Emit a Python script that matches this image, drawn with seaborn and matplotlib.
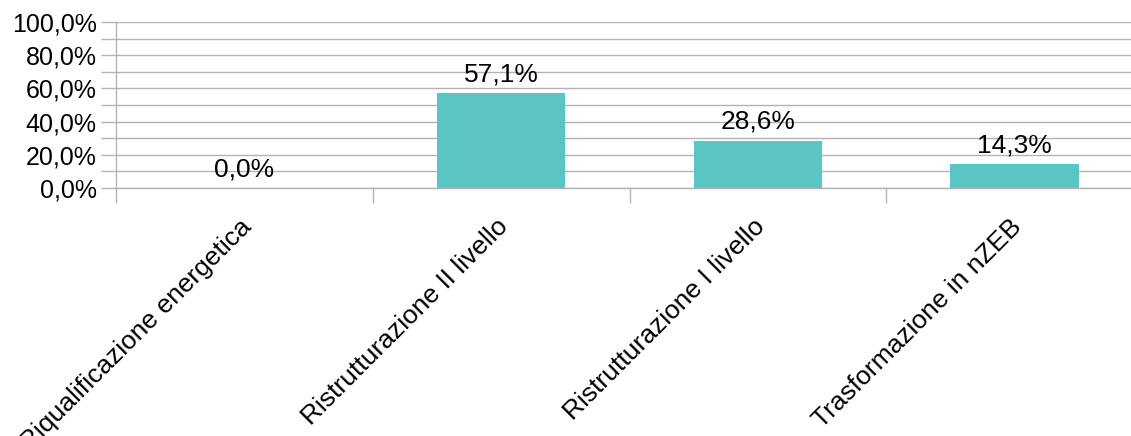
import matplotlib
matplotlib.use("Agg")
import matplotlib.pyplot as plt
import matplotlib.transforms as mtransforms
from matplotlib.ticker import MultipleLocator, FuncFormatter
import seaborn as sns
import pandas as pd

categories = [
    "Riqualificazione energetica",
    "Ristrutturazione II livello",
    "Ristrutturazione I livello",
    "Trasformazione in nZEB",
]
values = [0.0, 57.1, 28.6, 14.3]
bar_color = "#5BC5C6"
grid_color = "#B3B3B3"

sns.set_theme(style="white")
plt.rcParams["font.family"] = ["Liberation Sans", "DejaVu Sans"]

df = pd.DataFrame({"categoria": categories, "valore": values})

fig = plt.figure(figsize=(11.31, 4.36), dpi=100)
W, H = 1131, 436
left, right, top, bottom = 116, 1143, 22, 188
ax = fig.add_axes([left / W, 1 - bottom / H, (right - left) / W, (bottom - top) / H])

sns.barplot(data=df, x="categoria", y="valore", color=bar_color, width=0.5,
            saturation=1, linewidth=0, ax=ax)

ax.set_ylim(0, 100)
ax.set_xlim(-0.5, len(categories) - 0.5)
ax.yaxis.set_major_locator(MultipleLocator(20))
ax.yaxis.set_minor_locator(MultipleLocator(10))
ax.yaxis.set_major_formatter(FuncFormatter(lambda v, _: f"{v:.1f}%".replace(".", ",")))
ax.grid(True, which="both", axis="y", color=grid_color, linewidth=1.0)
ax.set_axisbelow(True)

for s in ["top", "right"]:
    ax.spines[s].set_visible(False)
for s in ["left", "bottom"]:
    ax.spines[s].set_color(grid_color)
    ax.spines[s].set_linewidth(1.0)

ax.tick_params(axis="y", which="both", left=True, length=11, color=grid_color,
               width=1.0, labelsize=18, pad=3, labelcolor="black")
ax.tick_params(axis="y", which="minor", labelleft=False)

# category separators below the axis
ax.set_xticks([i + 0.5 for i in range(-1, len(categories))], minor=True)
ax.tick_params(axis="x", which="minor", bottom=True, length=11, color=grid_color, width=1.0)
ax.tick_params(axis="x", which="major", bottom=False, labelsize=19, pad=8,
               labelcolor="black")
ax.set_xticks(range(len(categories)))
ax.set_xticklabels(categories, rotation=45, ha="right", va="top", rotation_mode="anchor")
shift = mtransforms.ScaledTranslation(-5 / 100, -7 / 100, fig.dpi_scale_trans)
for lbl in ax.get_xticklabels():
    lbl.set_transform(lbl.get_transform() + shift)

ax.set_xlabel("")
ax.set_ylabel("")

for i, v in enumerate(values):
    ax.annotate(f"{v:.1f}%".replace(".", ","), (i, v), xytext=(0, 5),
                textcoords="offset points", ha="center", va="bottom",
                fontsize=19, color="black")

fig.savefig("out.png", dpi=100)
